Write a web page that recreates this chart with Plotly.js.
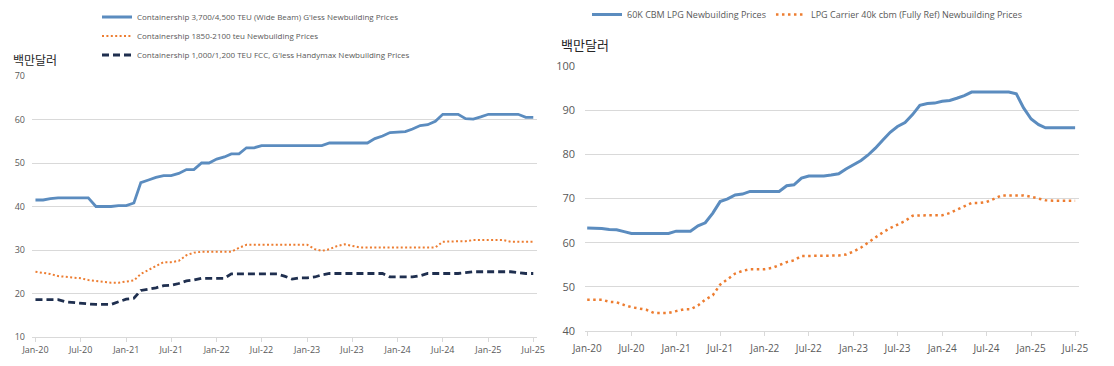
<!DOCTYPE html>
<html>
<head>
<meta charset="utf-8">
<script src="https://cdn.plot.ly/plotly-3.0.1.min.js"></script>
<style>
  html, body { margin: 0; padding: 0; background: #ffffff; }
  #chart { width: 1114px; height: 366px; }
</style>
</head>
<body>
<div id="chart"></div>
<script>
// Months Jan-20 .. Jul-25
const months = [
  "2020-01","2020-02","2020-03","2020-04","2020-05","2020-06","2020-07","2020-08","2020-09","2020-10","2020-11","2020-12",
  "2021-01","2021-02","2021-03","2021-04","2021-05","2021-06","2021-07","2021-08","2021-09","2021-10","2021-11","2021-12",
  "2022-01","2022-02","2022-03","2022-04","2022-05","2022-06","2022-07","2022-08","2022-09","2022-10","2022-11","2022-12",
  "2023-01","2023-02","2023-03","2023-04","2023-05","2023-06","2023-07","2023-08","2023-09","2023-10","2023-11","2023-12",
  "2024-01","2024-02","2024-03","2024-04","2024-05","2024-06","2024-07","2024-08","2024-09","2024-10","2024-11","2024-12",
  "2025-01","2025-02","2025-03","2025-04","2025-05","2025-06","2025-07"
];

// Left chart (US$ million)
const containerWideBeam = [
  41.5,41.5,41.8,42,42,42,42,42,40,40,40,40.2,
  40.2,40.8,45.5,46.1,46.7,47.1,47.1,47.6,48.5,48.5,50,50,
  50.9,51.4,52.1,52.1,53.5,53.5,54,54,54,54,54,54,
  54,54,54,54.6,54.6,54.6,54.6,54.6,54.6,55.6,56.2,57,
  57.1,57.2,57.8,58.6,58.8,59.6,61.2,61.2,61.2,60.2,60.1,60.6,
  61.2,61.2,61.2,61.2,61.2,60.5,60.5
];
const container1850 = [
  25,24.8,24.5,24,23.8,23.6,23.5,23.1,22.9,22.8,22.5,22.5,
  22.8,23,24.5,25.5,26.3,27.2,27.2,27.5,28.8,29.4,29.6,29.6,
  29.6,29.6,29.6,30.5,31.2,31.2,31.2,31.2,31.2,31.2,31.2,31.2,
  31.2,30.2,29.8,30.2,30.9,31.3,31,30.6,30.6,30.6,30.6,30.6,
  30.6,30.6,30.6,30.6,30.6,30.6,31.9,32,32,32,32.3,32.3,
  32.3,32.3,32.3,31.9,31.9,31.9,31.9
];
const containerHandymax = [
  18.6,18.6,18.6,18.6,18.1,17.9,17.8,17.6,17.5,17.5,17.5,18.1,
  18.7,18.9,20.7,21,21.3,21.8,21.9,22.3,22.9,23.1,23.5,23.5,
  23.5,23.5,24.5,24.5,24.5,24.5,24.5,24.5,24.5,24,23.3,23.6,
  23.6,23.8,24.3,24.6,24.6,24.6,24.6,24.6,24.6,24.6,24.6,23.8,
  23.8,23.8,23.8,24.1,24.6,24.6,24.6,24.6,24.6,24.8,25,25,
  25,25,25,25,24.8,24.6,24.6
];

// Right chart (US$ million)
const lpg60k = [
  63.3,63.3,63.2,63,62.9,62.5,62.1,62.1,62.1,62.1,62.1,62.1,
  62.6,62.6,62.6,63.8,64.5,66.7,69.3,69.9,70.8,71,71.6,71.6,
  71.6,71.6,71.6,72.9,73.1,74.6,75.1,75.1,75.1,75.3,75.6,76.7,
  77.6,78.6,79.8,81.4,83.2,85,86.3,87.2,89,91.1,91.5,91.6,
  92,92.2,92.7,93.3,94.1,94.1,94.1,94.1,94.1,94.1,93.7,90.5,
  88,86.7,86,86,86,86,86
];
const lpg40k = [
  47.1,47.1,47.1,46.6,46.5,45.9,45.4,45.1,44.8,44.1,44.1,44.1,
  44.5,44.9,44.9,45.8,47.1,48.1,50.5,51.7,53,53.6,54,54,
  54,54.3,55,55.6,56,57,57,57,57,57,57.1,57.3,
  58,58.9,60,61.3,62.3,63.3,64.1,64.9,66.1,66.2,66.2,66.2,
  66.2,66.7,67.4,68.3,69,69,69.2,69.9,70.7,70.7,70.7,70.7,
  70.4,69.9,69.6,69.5,69.5,69.5,69.5
];

const leftNames = [
  "Containership 3,700/4,500 TEU (Wide Beam) G'less Newbuilding Prices",
  "Containership 1850-2100 teu Newbuilding Prices",
  "Containership 1,000/1,200 TEU FCC, G'less Handymax Newbuilding Prices"
];
const rightNames = [
  "60K CBM LPG Newbuilding Prices",
  "LPG Carrier 40k cbm (Fully Ref) Newbuilding Prices"
];
const unitLabel = "백만달러";

const BLUE = "#5b8cbf", ORANGE = "#ed7d31", NAVY = "#1f2f4f";
const W = 1114, H = 366;
const px = v => v / W;
const py = v => 1 - v / H;

const traces = [
  {x: months, y: containerWideBeam, name: leftNames[0], type: "scatter", mode: "lines",
   line: {color: BLUE, width: 2.8}, xaxis: "x", yaxis: "y", legend: "legend"},
  {x: months, y: container1850, name: leftNames[1], type: "scatter", mode: "lines",
   line: {color: ORANGE, width: 2, dash: "2px,2.4px"}, xaxis: "x", yaxis: "y", legend: "legend"},
  {x: months, y: containerHandymax, name: leftNames[2], type: "scatter", mode: "lines",
   line: {color: NAVY, width: 2.8, dash: "7px,4px"}, xaxis: "x", yaxis: "y", legend: "legend"},
  {x: months, y: lpg60k, name: rightNames[0], type: "scatter", mode: "lines",
   line: {color: BLUE, width: 3}, xaxis: "x2", yaxis: "y2", legend: "legend2"},
  {x: months, y: lpg40k, name: rightNames[1], type: "scatter", mode: "lines",
   line: {color: ORANGE, width: 2.5, dash: "2.5px,3.5px"}, xaxis: "x2", yaxis: "y2", legend: "legend2"}
];

const tickColor = "#595959";
const gridColor = "#d9d9d9";

const layout = {
  width: W, height: H,
  margin: {l: 0, r: 0, t: 0, b: 0},
  paper_bgcolor: "#ffffff", plot_bgcolor: "#ffffff",
  font: {family: "'Open Sans', 'Noto Sans', sans-serif", color: tickColor},
  showlegend: true,
  xaxis: {
    domain: [px(32), px(537)], anchor: "y", type: "date",
    range: ["2019-12-18", "2025-07-16"],
    tick0: "2020-01-01", dtick: "M6", tickformat: "%b-%y",
    ticks: "outside", ticklen: 4, tickcolor: gridColor,
    showgrid: false, showline: true, linecolor: gridColor, linewidth: 1,
    tickfont: {size: 9, color: tickColor}, zeroline: false, ticklabelstandoff: 0
  },
  yaxis: {
    domain: [py(337), py(76)], anchor: "x", range: [10, 70], dtick: 10,
    showgrid: true, gridcolor: gridColor, gridwidth: 1, zeroline: false,
    showline: false, ticks: "", tickfont: {size: 9, color: tickColor},
    ticklabelstandoff: 6
  },
  xaxis2: {
    domain: [px(585), px(1079)], anchor: "y2", type: "date",
    range: ["2019-12-23", "2025-07-17"],
    tick0: "2020-01-01", dtick: "M6", tickformat: "%b-%y",
    ticks: "outside", ticklen: 4, tickcolor: gridColor,
    showgrid: false, showline: true, linecolor: gridColor, linewidth: 1,
    tickfont: {size: 10, color: tickColor}, zeroline: false, ticklabelstandoff: 4
  },
  yaxis2: {
    domain: [py(331), py(66)], anchor: "x2", range: [40, 100], dtick: 10,
    showgrid: true, gridcolor: gridColor, gridwidth: 1, zeroline: false,
    showline: false, ticks: "", tickfont: {size: 11, color: tickColor},
    ticklabelstandoff: 9
  },
  legend: {
    x: px(97), y: py(2.5), xanchor: "left", yanchor: "top",
    orientation: "v", bgcolor: "rgba(0,0,0,0)", borderwidth: 0,
    font: {size: 8, color: tickColor}, tracegroupgap: 0
  },
  legend2: {
    x: px(587), y: py(0), xanchor: "left", yanchor: "top",
    orientation: "h", bgcolor: "rgba(0,0,0,0)", borderwidth: 0,
    font: {size: 9, color: tickColor}
  },
  annotations: [
    {text: unitLabel, xref: "paper", yref: "paper", x: px(11), y: py(60),
     xanchor: "left", yanchor: "middle", showarrow: false,
     font: {family: "'Noto Sans CJK KR', sans-serif", size: 12, color: "#262626"}},
    {text: unitLabel, xref: "paper", yref: "paper", x: px(559), y: py(44),
     xanchor: "left", yanchor: "middle", showarrow: false,
     font: {family: "'Noto Sans CJK KR', sans-serif", size: 13, color: "#262626"}}
  ]
};

Plotly.newPlot("chart", traces, layout, {displayModeBar: false, staticPlot: true});
</script>
</body>
</html>
